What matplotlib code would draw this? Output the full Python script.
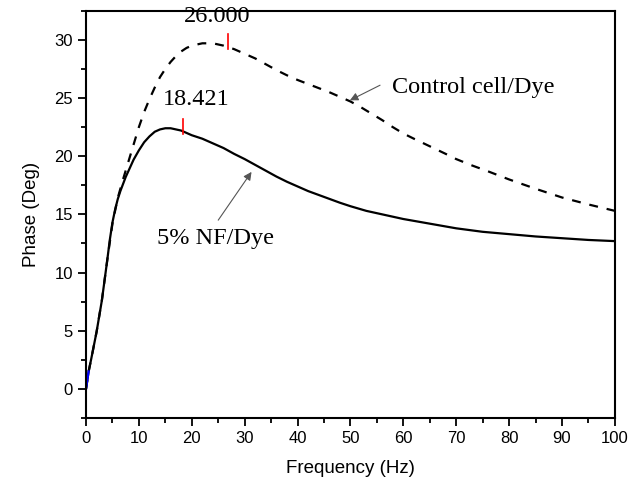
import matplotlib
matplotlib.use("Agg")
import matplotlib.pyplot as plt
from matplotlib.ticker import MultipleLocator

# 5% NF/Dye (solid)
nf_freq = [0, 0.5, 1, 2, 3, 4, 4.5, 5, 5.5, 6, 6.5, 7, 7.5, 8, 9, 10, 11, 12, 13, 14, 15,
           16, 17, 18, 19, 20, 22, 24, 26, 28, 30, 32, 34, 36, 38, 40, 42, 45, 48, 50,
           53, 56, 60, 65, 70, 75, 80, 85, 90, 95, 100]
nf_phase = [0, 1.5, 2.6, 4.9, 7.6, 11.0, 12.8, 14.3, 15.4, 16.3, 17.0, 17.6, 18.2, 18.7,
            19.7, 20.5, 21.2, 21.7, 22.1, 22.3, 22.4, 22.4, 22.3, 22.2, 22.0, 21.8, 21.5,
            21.1, 20.7, 20.2, 19.75, 19.25, 18.75, 18.25, 17.8, 17.4, 17.0, 16.5, 16.0,
            15.7, 15.3, 15.0, 14.6, 14.2, 13.8, 13.5, 13.3, 13.1, 12.95, 12.8, 12.7]

# Control cell/Dye (dashed)
ctrl_freq = [0, 0.5, 1, 2, 3, 4, 5, 6, 7, 8, 9, 10, 11, 12, 13, 14, 15, 16, 17, 18, 19,
             20, 22, 24, 26, 28, 30, 32, 34, 36, 38, 40, 42, 44, 46, 48, 50, 52, 54, 56,
             58, 60, 62, 65, 68, 70, 73, 76, 80, 85, 90, 95, 100]
ctrl_phase = [0, 1.5, 2.6, 4.9, 7.6, 11.0, 14.2, 16.4, 18.0, 19.5, 21.0, 22.5, 23.8, 24.9,
              25.9, 26.8, 27.5, 28.1, 28.6, 29.0, 29.3, 29.5, 29.7, 29.7, 29.5, 29.2,
              28.8, 28.4, 27.9, 27.4, 26.95, 26.55, 26.2, 25.85, 25.5, 25.1, 24.7, 24.2,
              23.65, 23.1, 22.5, 21.95, 21.5, 20.85, 20.2, 19.75, 19.2, 18.7, 18.0, 17.2,
              16.45, 15.85, 15.3]

# blue start segment
blue_freq = [0, 0.5]
blue_phase = [0, 1.5]

# red markers
mark_x = [18.4, 26.8]
mark_lo = [21.9, 29.2]
mark_hi = [23.2, 30.5]
mark_labels = ["18.421", "26.000"]

fig = plt.figure(figsize=(6.3, 4.83), dpi=100)
ax = fig.add_axes([0.1365, 0.1346, 0.8395, 0.8432])

ax.plot(ctrl_freq, ctrl_phase, color="black", lw=1.6, ls=(0, (4, 4)))
ax.plot(nf_freq, nf_phase, color="black", lw=1.6)
ax.plot(blue_freq, blue_phase, color="blue", lw=1.6)

for x, lo, hi in zip(mark_x, mark_lo, mark_hi):
    ax.plot([x, x], [lo, hi], color="red", lw=1.2)

serif = "Liberation Serif"
fs = 17.5
ax.text(20.9, 24.9, mark_labels[0], family=serif, fontsize=fs, ha="center", va="center")
ax.text(24.7, 32.0, mark_labels[1], family=serif, fontsize=fs, ha="center", va="center",
        clip_on=False, zorder=1)

ax.text(57.8, 25.9, "Control cell/Dye", family=serif, fontsize=fs, ha="left", va="center")
ax.text(13.4, 12.9, "5% NF/Dye", family=serif, fontsize=fs, ha="left", va="center")

arrowprops = dict(arrowstyle="-|>", color="#555555", lw=0.8, mutation_scale=12,
                  shrinkA=0, shrinkB=0)
ax.annotate("", xy=(49.9, 24.8), xytext=(55.6, 26.1), arrowprops=arrowprops)
ax.annotate("", xy=(31.3, 18.65), xytext=(25.0, 14.5), arrowprops=arrowprops)

ax.set_xlim(0, 100)
ax.set_ylim(-2.5, 32.5)
ax.xaxis.set_major_locator(MultipleLocator(10))
ax.xaxis.set_minor_locator(MultipleLocator(5))
ax.yaxis.set_major_locator(MultipleLocator(5))
ax.yaxis.set_minor_locator(MultipleLocator(2.5))

sans = "Liberation Sans"
ax.tick_params(which="major", direction="out", length=6, width=1.3, labelsize=12,
               top=False, right=False)
ax.tick_params(which="minor", direction="out", length=3.5, width=1.3, top=False, right=False)
for lab in ax.get_xticklabels() + ax.get_yticklabels():
    lab.set_family(sans)
for s in ax.spines.values():
    s.set_linewidth(1.5)

ax.set_xlabel("Frequency (Hz)", family=sans, fontsize=13.5, labelpad=10)
ax.set_ylabel("Phase (Deg)", family=sans, fontsize=13.5, labelpad=10)

fig.savefig("out.png", dpi=100)
